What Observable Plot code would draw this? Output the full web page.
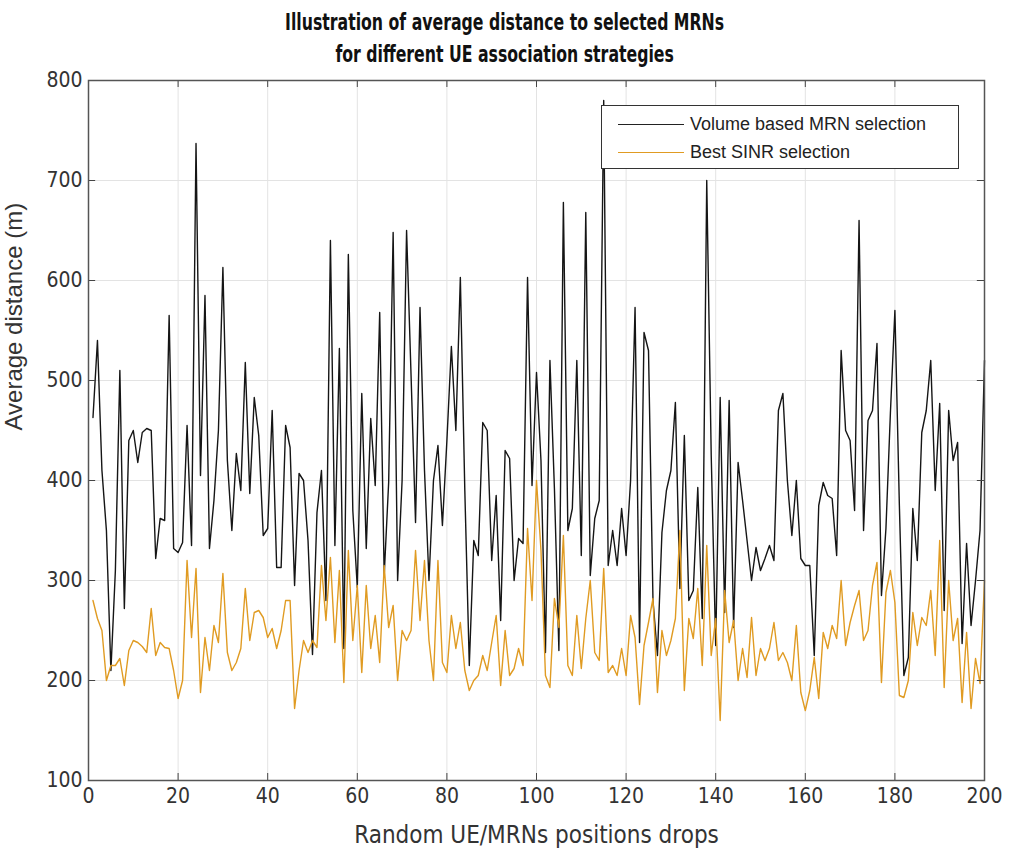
<!DOCTYPE html>
<html>
<head>
<meta charset="utf-8">
<script src="https://cdn.jsdelivr.net/npm/d3@7"></script>
<script src="https://cdn.jsdelivr.net/npm/@observablehq/plot@0.6"></script>
<style>
  body { margin: 0; background: #fff; width: 1009px; height: 858px; overflow: hidden; position: relative; }
  #title { height: 72px; text-align: center; font-family: "DejaVu Sans Condensed", sans-serif; font-weight: bold; font-size: 23px; line-height: 32px; padding-top: 6px; box-sizing: border-box; color: #111; transform: scaleX(0.76); transform-origin: 505px 0; }
  #chart svg { overflow: visible; }
  #legend { position: absolute; left: 601px; top: 105px; width: 358px; height: 64px; background: #fff; border: 1.5px solid #333; box-sizing: border-box; font-family: "Liberation Sans", Arial, sans-serif; font-size: 18px; color: #222; }
  .row { position: absolute; left: 16px; height: 20px; display: flex; align-items: center; }
  .sw { width: 66px; height: 0; border-top: 1.5px solid; margin-right: 6px; }
</style>
</head>
<body>
<div id="title">Illustration of average distance to selected MRNs<br>for different UE association strategies</div>
<div id="chart"></div>
<div id="legend">
  <div class="row" style="top:8px"><div class="sw" style="border-color:#222"></div><span id="l1"></span></div>
  <div class="row" style="top:36px"><div class="sw" style="border-color:#e09b22"></div><span id="l2"></span></div>
</div>
<script>
const seriesNames = ["Volume based MRN selection", "Best SINR selection"];
const xTicks = [0, 20, 40, 60, 80, 100, 120, 140, 160, 180, 200];
const yTicks = [100, 200, 300, 400, 500, 600, 700, 800];
const volume = [463,540,410,350,210,310,510,272,440,450,418,448,452,450,322,362,360,565,332,328,
338,455,335,737,405,585,332,380,450,613,420,350,427,390,518,387,483,445,345,352,
470,313,313,455,433,295,407,400,340,226,368,410,280,640,335,532,232,626,370,293,
487,332,462,395,568,305,398,648,300,400,650,505,358,573,410,300,400,435,355,440,
534,450,603,390,215,340,325,458,450,320,385,260,430,422,300,342,337,603,395,508,
420,228,520,392,230,678,350,372,520,325,668,305,362,380,780,315,350,315,372,325,
400,573,238,548,530,280,225,348,390,410,478,292,445,280,290,393,262,700,425,235,
483,268,480,253,418,380,340,300,333,310,322,335,320,470,487,400,345,400,322,315,
315,225,375,398,385,382,325,530,450,440,370,660,350,460,470,537,285,352,468,570,
375,205,223,372,320,448,470,520,390,477,270,470,420,438,237,337,255,300,350,520];
const sinr = [280,262,250,200,215,215,222,195,230,240,238,234,228,272,225,238,233,232,210,182,
200,320,243,312,188,243,210,255,238,307,228,210,218,232,292,240,268,270,263,243,
252,232,250,280,280,172,210,240,228,240,233,315,260,323,238,310,198,330,240,295,
208,295,232,265,218,315,253,275,200,250,240,250,330,260,320,240,200,320,218,208,
265,232,258,210,190,200,205,225,210,238,265,195,250,205,212,232,215,352,280,400,
330,205,193,282,253,345,215,205,265,212,262,300,228,220,312,208,215,205,232,205,
265,243,176,235,258,282,188,250,225,240,262,350,190,262,242,292,215,335,225,262,
160,290,238,260,200,232,203,263,205,232,220,232,258,220,228,218,200,255,188,170,
190,223,182,248,232,255,242,300,235,258,275,290,240,250,295,318,198,288,310,278,
185,183,200,268,235,263,255,290,225,340,193,300,240,262,178,248,172,222,197,300];

document.getElementById("l1").textContent = seriesNames[0];
document.getElementById("l2").textContent = seriesNames[1];

const rows = [];
volume.forEach((v, i) => rows.push({x: i + 1, y: v, s: seriesNames[0]}));
sinr.forEach((v, i) => rows.push({x: i + 1, y: v, s: seriesNames[1]}));

const chart = Plot.plot({
  width: 1009,
  height: 786,
  marginTop: 8,
  marginBottom: 78,
  marginLeft: 88,
  marginRight: 25,
  style: {fontFamily: "'DejaVu Sans Condensed', sans-serif", fontSize: "21px", color: "#333", background: "#fff", overflow: "visible"},
  x: {domain: [0, 200], ticks: xTicks, label: null},
  y: {domain: [100, 800], ticks: yTicks, label: null},
  color: {domain: seriesNames, range: ["#151515", "#e09b22"]},
  marks: [
    Plot.gridX(xTicks, {stroke: "#e3e3e3", strokeOpacity: 1}),
    Plot.gridY(yTicks, {stroke: "#e3e3e3", strokeOpacity: 1}),
    Plot.lineY(rows, {x: "x", y: "y", z: "s", stroke: "s", strokeWidth: 1.4}),
    Plot.ruleX(xTicks, {x: d => d, y1: 100, y2: 107, stroke: "#444"}),
    Plot.ruleX(xTicks, {x: d => d, y1: 793, y2: 800, stroke: "#444"}),
    Plot.ruleY(yTicks, {y: d => d, x1: 0, x2: 1.6, stroke: "#444"}),
    Plot.ruleY(yTicks, {y: d => d, x1: 198.4, x2: 200, stroke: "#444"}),
    Plot.frame({stroke: "#555", strokeWidth: 1.5}),
    Plot.axisX(xTicks, {tickSize: 0, tickPadding: 8, fontSize: 21, fill: "#333"}),
    Plot.axisY(yTicks, {tickSize: 0, tickPadding: 6, fontSize: 21, fill: "#333"}),
    Plot.text(["Random UE/MRNs positions drops"], {frameAnchor: "bottom", dy: 62, fontSize: 24, fill: "#333"}),
    Plot.text(["Average distance (m)"], {frameAnchor: "left", dx: -74, rotate: -90, fontSize: 24, fill: "#333", fontFamily: "'Liberation Sans', sans-serif"})
  ]
});
document.getElementById("chart").appendChild(chart);
</script>
</body>
</html>
